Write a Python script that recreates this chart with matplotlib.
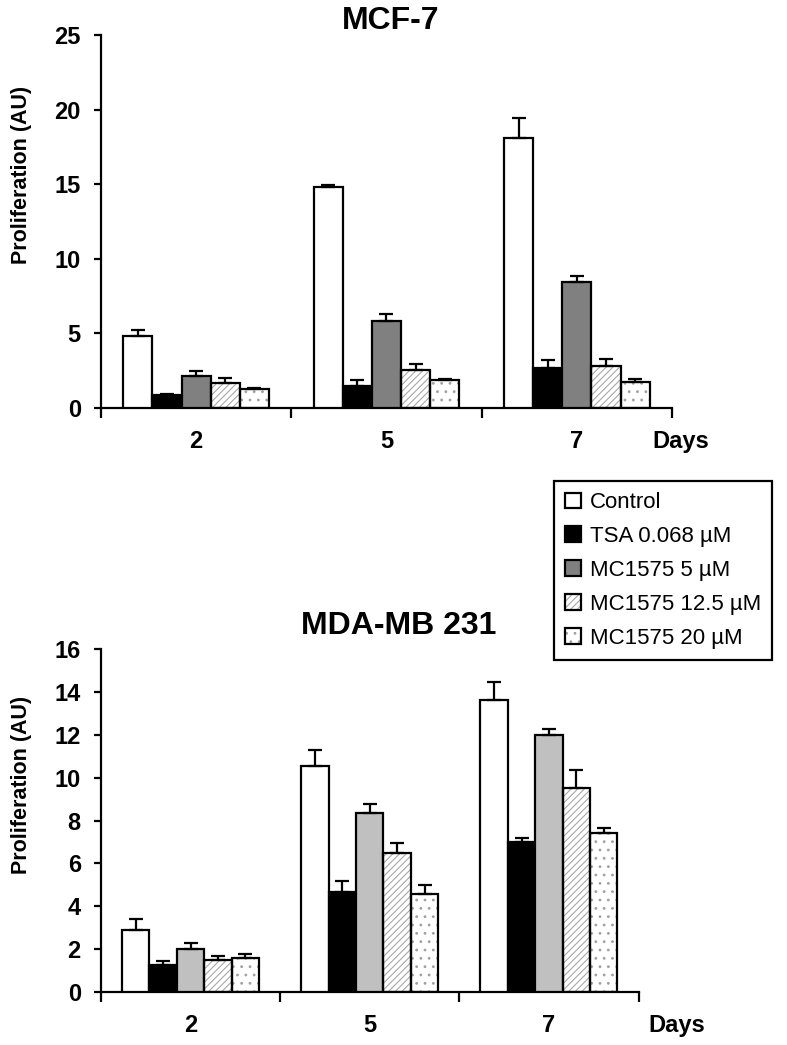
import numpy as np
import matplotlib
matplotlib.use("Agg")
import matplotlib.pyplot as plt
from matplotlib.legend_handler import HandlerTuple

plt.rcParams['font.family'] = ['Liberation Sans', 'DejaVu Sans']
plt.rcParams['hatch.linewidth'] = 0.8

days = ['2', '5', '7']
treatments = ['Control', 'TSA 0.068 µM', 'MC1575 5 µM', 'MC1575 12.5 µM', 'MC1575 20 µM']

# MCF-7 means and upper error bars
mcf7_mean = [
    [4.8, 14.8, 18.1],
    [0.87, 1.5, 2.7],
    [2.15, 5.8, 8.45],
    [1.65, 2.55, 2.8],
    [1.27, 1.85, 1.75],
]
mcf7_err = [
    [0.4, 0.15, 1.35],
    [0.06, 0.35, 0.5],
    [0.3, 0.5, 0.4],
    [0.35, 0.4, 0.5],
    [0.1, 0.12, 0.22],
]

# MDA-MB 231
mda_mean = [
    [2.9, 10.55, 13.63],
    [1.28, 4.67, 6.98],
    [2.02, 8.33, 12.0],
    [1.48, 6.47, 9.5],
    [1.6, 4.56, 7.4],
]
mda_err = [
    [0.5, 0.74, 0.85],
    [0.15, 0.5, 0.22],
    [0.26, 0.44, 0.26],
    [0.19, 0.48, 0.84],
    [0.17, 0.43, 0.23],
]

# fill, hatch, hatch colour per treatment (MC1575 5 µM differs between panels)
fills_top = ['white', 'black', '#808080', 'white', 'white']
fills_bot = ['white', 'black', '#c0c0c0', 'white', 'white']
hatches = [None, None, None, '/////', '..']
hatch_cols = ['black', 'black', 'black', '#a8a8a8', '#a0a0a0']

W = 787
H = 1045
fig = plt.figure(figsize=(W / 100, H / 100), dpi=100)

ax1 = fig.add_axes([101 / W, 1 - 408 / H, 571 / W, 373 / H])
ax2 = fig.add_axes([101 / W, 1 - 992 / H, 537.5 / W, 343 / H])

bw = 0.153
x = np.arange(len(days))


def draw(ax, means, errs, fills, ymax, ystep, lab_y):
    handles = []
    for i in range(len(treatments)):
        pos = x + (i - 2) * bw
        m = np.array(means[i])
        e = np.array(errs[i])
        if hatches[i]:
            bg = ax.bar(pos, m, bw, color='white', hatch=hatches[i],
                        edgecolor=hatch_cols[i], linewidth=0, zorder=2)
            ol = ax.bar(pos, m, bw, fill=False, edgecolor='black',
                        linewidth=1.6, zorder=3)
            handles.append((bg, ol))
        else:
            b = ax.bar(pos, m, bw, color=fills[i], edgecolor='black',
                       linewidth=1.6, zorder=3)
            handles.append(b)
        ax.errorbar(pos, m, yerr=[np.zeros(len(m)), e], fmt='none',
                    ecolor='black', elinewidth=1.6, capsize=5, capthick=1.6,
                    zorder=4)
    ax.set_xlim(-0.5, 2.5)
    ax.set_ylim(0, ymax)
    ax.set_yticks(np.arange(0, ymax + 0.1, ystep))
    ax.set_xticks([-0.5, 0.5, 1.5, 2.5])
    ax.set_xticklabels([])
    ax.tick_params(axis='x', length=7, width=1.6, direction='out')
    ax.tick_params(axis='y', length=5, width=1.6, direction='out',
                   labelsize=17, pad=9.5)
    for lab in ax.get_yticklabels():
        lab.set_fontweight('bold')
    for j, d in enumerate(days):
        ax.text(j, lab_y, d, transform=ax.get_xaxis_transform(),
                ha='center', va='top', fontsize=17, fontweight='bold')
    for s in ['top', 'right']:
        ax.spines[s].set_visible(False)
    for s in ['left', 'bottom']:
        ax.spines[s].set_linewidth(1.6)
    return handles


h = draw(ax1, mcf7_mean, mcf7_err, fills_top, 25, 5, -0.059)
draw(ax2, mda_mean, mda_err, fills_bot, 16, 2, -0.064)

fig.text(22 / W, 1 - 175 / H, 'Proliferation (AU)', rotation=90,
         ha='center', va='center', fontsize=15.5, fontweight='bold')
fig.text(22 / W, 1 - 785 / H, 'Proliferation (AU)', rotation=90,
         ha='center', va='center', fontsize=15.5, fontweight='bold')

ax1.text((652 - 101) / 571, -0.059, 'Days', transform=ax1.transAxes,
         ha='left', va='top', fontsize=17, fontweight='bold')
ax2.text((648 - 101) / 537.5, -0.064, 'Days', transform=ax2.transAxes,
         ha='left', va='top', fontsize=17, fontweight='bold')

fig.text(391 / W, 1 - 21 / H, 'MCF-7', ha='center', va='center',
         fontsize=23, fontweight='bold')
fig.text(399 / W, 1 - 626 / H, 'MDA-MB 231', ha='center', va='center',
         fontsize=23, fontweight='bold')

leg = fig.legend(h, treatments, loc='upper left',
                 bbox_to_anchor=(554 / W, 1 - 481 / H),
                 handler_map={tuple: HandlerTuple(ndivide=1, pad=0)},
                 fontsize=16, frameon=True, fancybox=False,
                 edgecolor='black', framealpha=1, labelspacing=0.58,
                 handlelength=0.7, handleheight=0.7, handletextpad=0.4,
                 borderpad=0.5, borderaxespad=0)
leg.get_frame().set_linewidth(1.6)

fig.savefig('out.png', dpi=100)
